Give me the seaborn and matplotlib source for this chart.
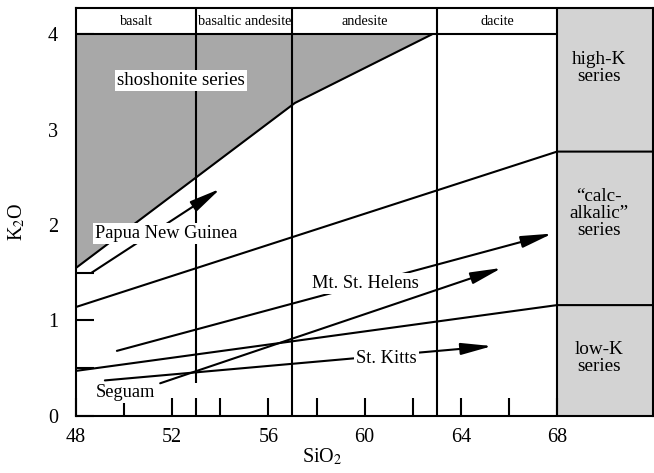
import numpy as np
import pandas as pd
import matplotlib
matplotlib.use("Agg")
import matplotlib.pyplot as plt
import seaborn as sns

# ---------------- data ----------------
rock_bounds = [53, 57, 63, 68]
rock_names = ["basalt", "basaltic andesite", "andesite", "dacite"]
rock_centers = [50.5, 55.0, 60.0, 65.5]

shosh_sio2 = [48.0, 57.1, 62.8]
shosh_k2o = [1.55, 3.28, 4.0]

highk_sio2 = [48.0, 68.0, 72.0]
highk_k2o = [1.14, 2.77, 2.77]

lowk_sio2 = [48.0, 68.0, 72.0]
lowk_k2o = [0.47, 1.16, 1.16]

arrow_names = ["Papua New Guinea", "Mt. St. Helens", "St. Kitts", "Seguam"]
arrow_start_sio2 = [48.65, 49.7, 49.2, 51.5]
arrow_start_k2o = [1.50, 0.68, 0.37, 0.34]
arrow_end_sio2 = [54.0, 67.8, 65.3, 65.7]
arrow_end_k2o = [2.38, 1.91, 0.73, 1.55]
label_sio2 = [51.76, 60.05, 60.9, 50.07]
label_k2o = [1.91, 1.385, 0.60, 0.24]

series_names = ["high-K\nseries", "\u201ccalc-\nalkalic\u201d\nseries", "low-K\nseries"]
series_k2o = [3.65, 2.12, 0.605]

x_major = [48, 52, 56, 60, 64, 68]
x_minor = [50, 53, 54, 58, 62, 66]
y_major = [0, 1, 2, 3, 4]
y_minor = [0.5, 1.5, 2.5, 3.5]

# ---------------- style ----------------
sns.set_theme(style="white")
plt.rcParams["font.family"] = ["Liberation Serif", "DejaVu Serif"]
plt.rcParams["mathtext.fontset"] = "stix"
plt.rcParams["text.color"] = "black"
plt.rcParams["axes.labelcolor"] = "black"
plt.rcParams["xtick.color"] = "black"
plt.rcParams["ytick.color"] = "black"

fig = plt.figure(figsize=(6.54, 4.73), dpi=100)
ax = fig.add_axes([76 / 654, (473 - 415.7) / 473, 577.3 / 654, 407.7 / 473])
ax.set_xlim(48, 72)
ax.set_ylim(0, 4.276)

lw = 1.5
# gray fills
ax.fill_between(shosh_sio2, shosh_k2o, 4.0, color="#a8a8a8", lw=0, zorder=1)
ax.axvspan(68, 72, color="#d3d3d3", lw=0, zorder=0.5)

# boundary lines via seaborn
bdf = pd.DataFrame({
    "SiO2": shosh_sio2 + highk_sio2 + lowk_sio2,
    "K2O": shosh_k2o + highk_k2o + lowk_k2o,
    "line": ["shosh"] * len(shosh_sio2) + ["highk"] * len(highk_sio2) + ["lowk"] * len(lowk_sio2),
})
sns.lineplot(data=bdf, x="SiO2", y="K2O", hue="line", units="line", estimator=None,
             sort=False, palette=["black"] * 3, linewidth=lw, legend=False, ax=ax, zorder=3)

# header line and rock-name dividers
ax.plot([48, 68], [4.0, 4.0], color="black", lw=lw, zorder=3)
for b in rock_bounds:
    y0 = 0.345 if b == 53 else 0.0
    ax.plot([b, b], [y0, 4.276], color="black", lw=lw, zorder=3, solid_capstyle="butt")
for name, c in zip(rock_names, rock_centers):
    ax.text(c, 4.135, name, ha="center", va="center", fontsize=10.3, color="black", zorder=5)

# arrows
for sx, sy, ex, ey in zip(arrow_start_sio2, arrow_start_k2o, arrow_end_sio2, arrow_end_k2o):
    ax.annotate("", xy=(ex, ey), xytext=(sx, sy),
                arrowprops=dict(arrowstyle="-|>,head_length=0.95,head_width=0.18",
                                mutation_scale=20, lw=lw, color="black",
                                shrinkA=0, shrinkB=0), zorder=4)

box = dict(facecolor="white", edgecolor="none", pad=1.5)
for name, x, y in zip(arrow_names, label_sio2, label_k2o):
    ax.text(x, y, name, ha="center", va="center", fontsize=13.2, color="black",
            bbox=box, zorder=6)

ax.text(52.38, 3.52, "shoshonite series", ha="center", va="center", fontsize=13.5,
        color="black", bbox=box, zorder=6)

for name, y in zip(series_names, series_k2o):
    ax.text(69.75, y, name, ha="center", va="center", fontsize=13.8, linespacing=1.02,
            color="black", zorder=6)

# axes, ticks
for s in ax.spines.values():
    s.set_linewidth(lw)
    s.set_color("black")
    s.set_zorder(7)
ax.set_xticks(x_major)
ax.set_xticks(x_minor, minor=True)
ax.set_yticks(y_major)
ax.set_yticks(y_minor, minor=True)
ax.tick_params(which="both", direction="in", length=13, width=lw, color="black",
               labelcolor="black", bottom=True, left=True, top=False, right=False)
ax.tick_params(axis="x", which="major", labelsize=14.5, pad=9)
ax.tick_params(axis="y", which="major", labelsize=14.5, pad=13)
ax.set_xlabel("SiO$_2$", fontsize=14.5, color="black")
ax.set_ylabel("K$_2$O", fontsize=14.5, color="black")
ax.xaxis.set_label_coords((322 - 76) / 577.3, -0.075)
ax.yaxis.set_label_coords(-0.085, 0.475)

fig.savefig("out.png", dpi=100)
